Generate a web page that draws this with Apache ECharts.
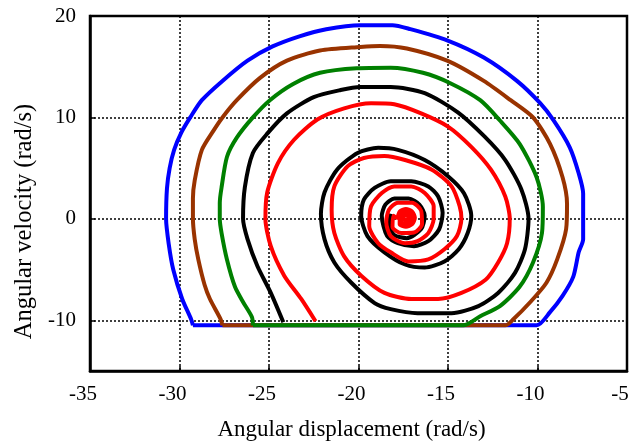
<!DOCTYPE html>
<html>
<head>
<meta charset="utf-8">
<title>Phase trajectories</title>
<script src="https://cdn.jsdelivr.net/npm/echarts@6/dist/echarts.min.js"></script>
<style>
  html, body { margin: 0; padding: 0; background: #fff; }
  #chart { width: 644px; height: 446px; }
</style>
</head>
<body>
<div id="chart"></div>
<script>
  /** tick values */
  const xTicks = [-35, -30, -25, -20, -15, -10, -5]
  const yTicks = [-10, 0, 10, 20]

  /** trajectories, [angular displacement, angular velocity] */
  const blueCurve = [
    [-29.25, -10.5], [-29.35, -9.9], [-29.85, -7.9], [-30.35, -5.0], [-30.6, -2.5], [-30.75, 0],
    [-30.7, 3], [-30.55, 5], [-30.3, 6.8], [-29.9, 8.5], [-29.4, 10], [-28.75, 11.7], [-27.6, 13.6],
    [-26.2, 15.6], [-24.8, 17.0], [-23.3, 18.0], [-21.8, 18.7], [-19.9, 19.1], [-18.1, 19.1],
    [-17.1, 18.7], [-15.05, 17.6], [-13.0, 15.9], [-11.15, 13.6], [-9.85, 11.4], [-9.1, 9.7],
    [-8.2, 7.05], [-7.7, 4.5], [-7.45, 2.5], [-7.45, -2.0], [-7.7, -3.3], [-8.0, -5.7], [-8.6, -7.6],
    [-9.3, -9.2], [-10.05, -10.5], [-29.25, -10.5]
  ]
  const brownCurve = [
    [-27.6, -10.5], [-27.7, -9.9], [-28.3, -7.9], [-28.6, -6.5], [-28.95, -4.0], [-29.15, -2.0],
    [-29.25, 0], [-29.25, 2], [-29.15, 3.8], [-28.75, 6.8], [-28.1, 8.7], [-27.6, 10], [-26.8, 11.7],
    [-25.5, 13.9], [-24.0, 15.6], [-22.15, 16.6], [-19.9, 16.95], [-18.8, 17.05], [-17.3, 16.8],
    [-15.05, 15.6], [-13.0, 13.6], [-11.5, 11.7], [-10.25, 10], [-9.3, 7.4], [-8.6, 4.1],
    [-8.35, 1.5], [-8.4, -1.0], [-8.9, -4.0], [-9.5, -6.3], [-10.4, -8.2], [-11.35, -9.9],
    [-11.8, -10.5], [-27.6, -10.5]
  ]
  const greenCurve = [
    [-25.9, -10.5], [-25.95, -9.7], [-26.45, -8.2], [-26.9, -6.7], [-27.35, -4.0], [-27.65, -1.4],
    [-27.75, 0], [-27.75, 1.6], [-27.65, 3.1], [-27.35, 6.1], [-26.8, 8.0], [-25.9, 10], [-24.95, 11.7],
    [-23.65, 13.3], [-22.15, 14.4], [-20.1, 14.85], [-18.2, 14.9], [-16.4, 14.4], [-14.9, 13.4],
    [-13.2, 11.7], [-12.1, 9.7], [-11.0, 7.4], [-10.05, 4.1], [-9.7, 1.2], [-9.75, -1.4],
    [-10.25, -4.3], [-11.0, -6.7], [-12.1, -8.6], [-13.2, -9.6], [-14.15, -10.5], [-25.9, -10.5]
  ]
  const blackSpiral = [
    [-24.2, -10.2], [-24.9, -7.3], [-25.65, -4.65], [-26.2, -2.0], [-26.45, 0], [-26.35, 3.1],
    [-25.9, 6.5], [-25.1, 8.4], [-24.0, 10.4], [-22.5, 12.0], [-21.0, 12.7], [-19.9, 13.0],
    [-18.2, 13.0], [-16.3, 12.4], [-14.45, 10.5], [-12.95, 8.1], [-11.8, 5.8], [-10.9, 2.9],
    [-10.5, 0], [-10.7, -3.0], [-11.25, -5.3], [-12.2, -7.3], [-13.3, -8.6], [-14.8, -9.3],
    [-16.7, -9.3], [-18.2, -8.9], [-19.1, -8.3], [-20.4, -6.3], [-21.35, -4.3], [-21.9, -2.0],
    [-22.1, 0.5], [-21.9, 2.6], [-21.2, 4.85], [-20.05, 6.5], [-18.9, 7.0], [-17.8, 6.8],
    [-16.3, 5.8], [-15.0, 4.2], [-14.1, 2.5], [-13.7, 0.3], [-13.9, -1.4], [-14.4, -3.0],
    [-15.2, -4.2], [-16.3, -4.8], [-17.4, -4.5], [-18.55, -3.3], [-19.5, -1.7], [-19.85, 0.3],
    [-19.7, 1.9], [-19.1, 3.05], [-18.2, 3.7], [-17.05, 3.7], [-16.1, 3.2], [-15.55, 2.2],
    [-15.3, 0.6], [-15.5, -1.05], [-16.1, -2.2], [-16.9, -2.7], [-17.8, -2.4], [-18.4, -1.7],
    [-18.7, 0.3], [-18.5, 1.4], [-18.0, 2.0], [-17.2, 2.0], [-16.6, 1.4], [-16.3, 0.3],
    [-16.5, -1.0], [-17.3, -1.9], [-18.0, -1.6], [-18.3, -0.6], [-18.2, 0.5]
  ]
  const redSpiral = [
    [-22.4, -10.1], [-23.2, -7.9], [-24.15, -5.6], [-24.9, -2.7], [-25.2, 0], [-25.1, 2.6],
    [-24.5, 5.5], [-23.6, 7.8], [-22.3, 9.8], [-20.8, 10.9], [-19.3, 11.4], [-18.0, 11.3],
    [-16.5, 10.4], [-15.0, 9.1], [-13.7, 7.1], [-12.6, 4.85], [-11.8, 2.2], [-11.55, 0],
    [-11.7, -2.4], [-12.2, -4.3], [-12.9, -6.0], [-14.25, -7.3], [-15.55, -7.9], [-17.05, -7.9],
    [-18.55, -7.3], [-19.85, -5.6], [-20.8, -3.7], [-21.35, -1.4], [-21.5, 0.9], [-21.35, 3.2],
    [-20.6, 5.2], [-19.7, 6.0], [-18.55, 6.2], [-17.4, 5.8], [-15.9, 4.85], [-14.8, 3.2],
    [-14.35, 1.25], [-14.25, 0], [-14.5, -1.7], [-15.2, -3.0], [-16.1, -4.0], [-17.2, -4.2],
    [-18.2, -3.3], [-18.9, -2.4], [-19.4, -0.7], [-19.3, 1.25], [-18.7, 2.55], [-18.0, 3.2],
    [-17.05, 3.2], [-16.3, 2.55], [-15.8, 1.25], [-15.8, 0], [-16.1, -1.4], [-16.7, -2.2],
    [-17.4, -2.4], [-18.2, -1.7], [-18.45, -0.3], [-18.3, 0.9], [-17.8, 1.6], [-17.0, 1.6],
    [-16.5, 0.8], [-16.45, -0.5], [-16.9, -1.35], [-17.6, -1.4], [-18.1, -0.8], [-18.05, 0.3],
    [-17.85, 0.1], [-17.7, 0.72], [-17.35, 0.98], [-17.0, 0.72], [-16.85, 0.1], [-17.0, -0.52],
    [-17.35, -0.78], [-17.7, -0.52], [-17.69, 0.1], [-17.59, 0.52], [-17.35, 0.69], [-17.11, 0.52],
    [-17.01, 0.1], [-17.11, -0.32], [-17.35, -0.49], [-17.59, -0.32], [-17.52, 0.1], [-17.35, 0.39],
    [-17.18, 0.1], [-17.35, -0.19], [-17.4, 0.1]
  ]

  const FONT = '"Liberation Serif", "Times New Roman", serif'

  /** one line series per trajectory, later ones drawn on top */
  function trace(data, color) {
    return {
      type: 'line',
      data: data,
      symbol: 'none',
      smooth: 0.25,
      lineStyle: { color: color, width: 4, join: 'round' }
    }
  }

  const chart = echarts.init(document.getElementById('chart'))
  chart.setOption({
    animation: false,
    backgroundColor: '#fff',
    grid: {
      left: 90, right: 17, top: 16, bottom: 74,
      show: true, borderColor: '#000', borderWidth: 2.5, backgroundColor: 'transparent'
    },
    xAxis: {
      type: 'value',
      min: -35, max: -5, interval: 5,
      name: 'Angular displacement (rad/s)',
      nameLocation: 'middle',
      nameGap: 47,
      nameTextStyle: { fontFamily: FONT, fontSize: 23, color: '#000', padding: [0, 14, 0, 0] },
      axisLine: { show: true, onZero: false, lineStyle: { color: '#000', width: 2.5 } },
      axisTick: { show: true, inside: true, length: 5, lineStyle: { color: '#000', width: 1.5 } },
      axisLabel: {
        fontFamily: FONT, fontSize: 21, color: '#000', margin: 13,
        padding: [0, 14, 0, 0],
        customValues: xTicks
      },
      splitLine: { show: true, lineStyle: { color: '#000', width: 1.5, type: [2, 2] } }
    },
    yAxis: {
      type: 'value',
      min: -15, max: 20,
      name: 'Angular velocity (rad/s)',
      nameLocation: 'middle',
      nameGap: 50,
      nameRotate: 90,
      nameTextStyle: { fontFamily: FONT, fontSize: 24.5, color: '#000', padding: [0, 56, 0, 0] },
      axisLine: { show: true, onZero: false, lineStyle: { color: '#000', width: 2.5 } },
      axisTick: {
        show: true, inside: true, length: 5, lineStyle: { color: '#000', width: 1.5 },
        customValues: yTicks
      },
      axisLabel: {
        fontFamily: FONT, fontSize: 21, color: '#000', margin: 14,
        padding: [9, 0, 0, 0],
        customValues: yTicks
      },
      splitLine: { show: true, lineStyle: { color: '#000', width: 1.5, type: [2, 2] } }
    },
    series: [
      trace(blueCurve, '#0000ff'),
      trace(brownCurve, '#993300'),
      trace(greenCurve, '#008000'),
      trace(blackSpiral, '#000000'),
      trace(redSpiral, '#ff0000')
    ]
  })
</script>
</body>
</html>
